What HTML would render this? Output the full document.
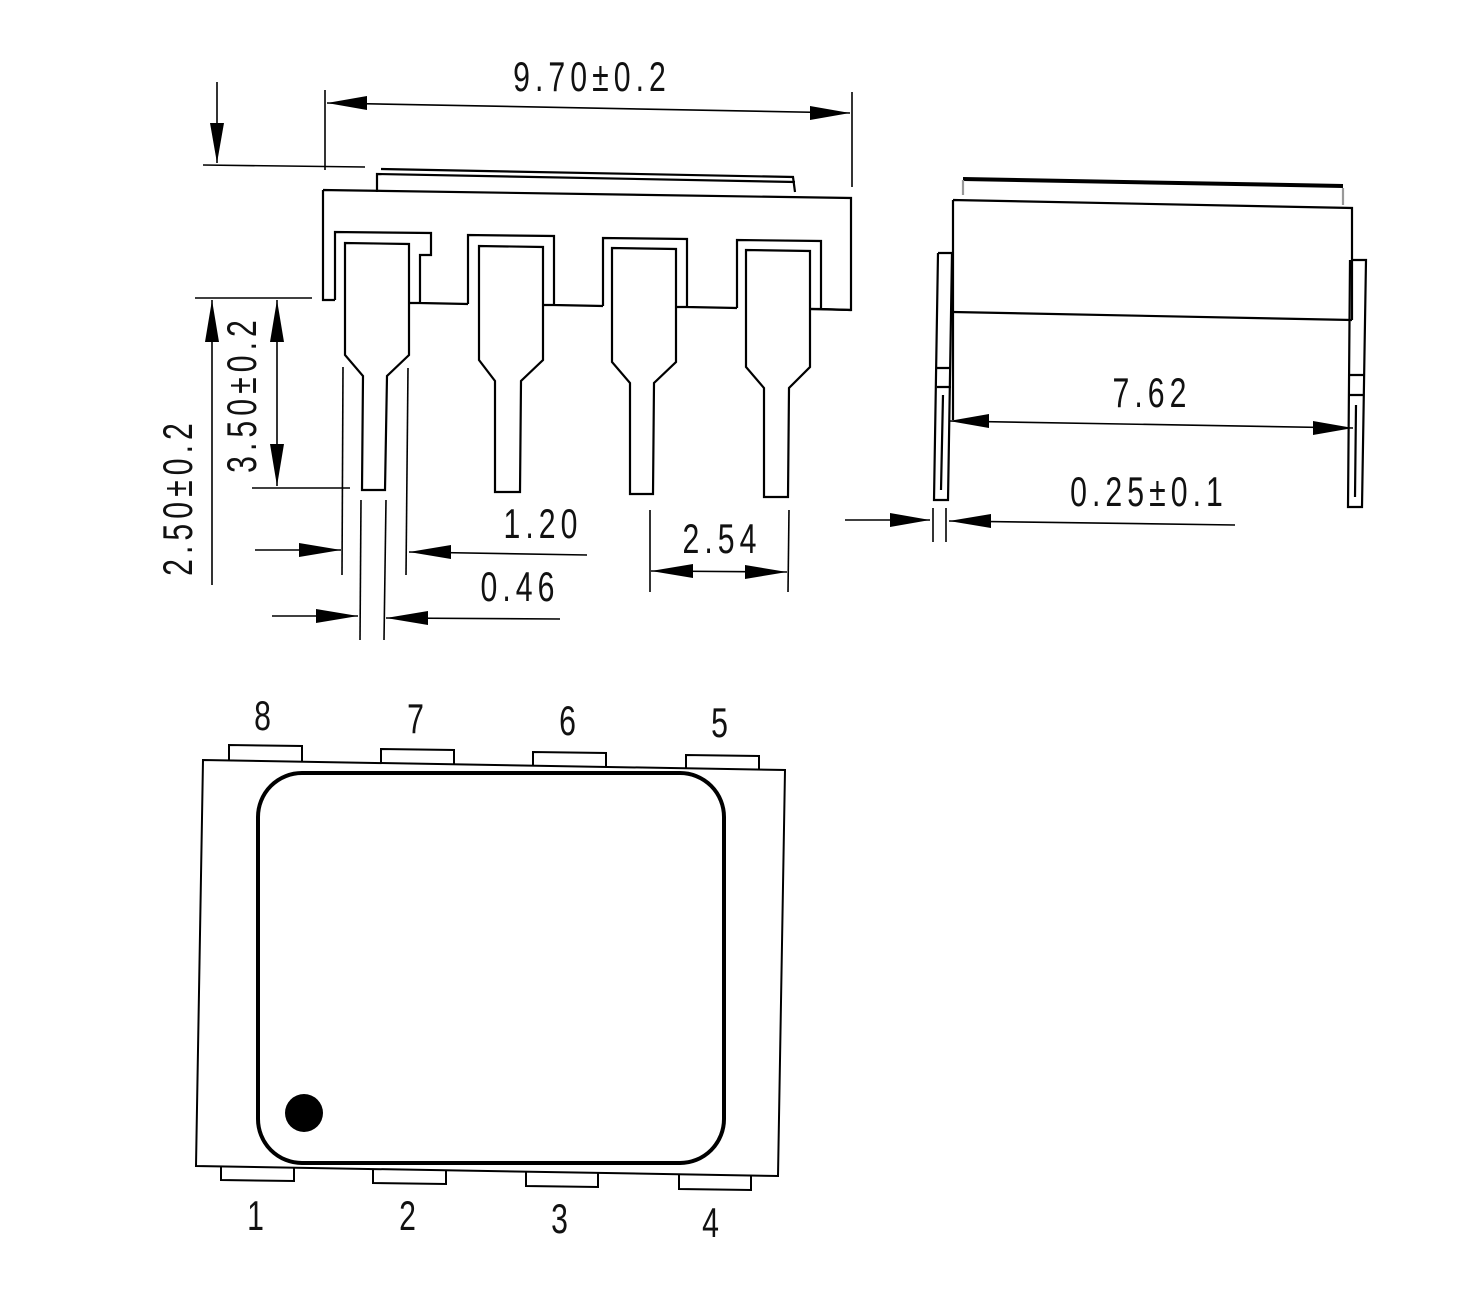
<!DOCTYPE html>
<html><head><meta charset="utf-8"><style>
html,body{margin:0;padding:0;background:#fff;}
svg{display:block;}
text{font-family:"Liberation Sans",sans-serif;fill:#111;letter-spacing:7px;}
</style></head><body>
<svg width="1481" height="1310" viewBox="0 0 1481 1310" xmlns="http://www.w3.org/2000/svg">
<g fill="none" stroke="#000" stroke-width="2.2">
<path d="M381,169 L793,177 L795,192 M377,192 L377,174 L795,182"/>
<path d="M323,190 L851,198 L851,310 L811,309 M323,190 L323,300 L335,300"/>
<path d="M335,300 L335,232 L431,233 L431,255 L420,255 L420,303 L409,303 M420,303 L468,304"/>
<path d="M345,300 L345,243 L409,244 L409,355 L387,376 L385,490 L362,490 L363,376 L345,355 Z"/>
<path d="M468,304 L468,235 L554,236 L554,305 L543,305 M554,305 L603,306"/>
<path d="M479,305 L479,246 L543,247 L543,360 L521,381 L520,492 L495,492 L495,381 L479,360 Z"/>
<path d="M603,306 L603,238 L687,239 L687,307 L676,307 M687,307 L737,308"/>
<path d="M612,306 L612,248 L676,249 L676,362 L654,383 L653,494 L630,494 L630,383 L612,362 Z"/>
<path d="M737,308 L737,240 L821,241 L821,309 L810,309 M821,309 L851,310"/>
<path d="M746,309 L746,250 L810,251 L810,367 L789,388 L788,497 L764,497 L764,388 L746,367 Z"/>
</g>
<g fill="none" stroke="#000" stroke-width="1.6">
<line x1="325" y1="90" x2="325" y2="170"/>
<line x1="852" y1="92" x2="852" y2="187"/>
<line x1="327" y1="103" x2="850" y2="113"/>
<line x1="203" y1="165" x2="365" y2="167"/>
<line x1="217" y1="82" x2="217" y2="163"/>
<line x1="195" y1="298" x2="312" y2="298"/>
<line x1="252" y1="488" x2="350" y2="488"/>
<line x1="277" y1="300" x2="277" y2="486"/>
<line x1="212" y1="585" x2="212" y2="300"/>
<line x1="343" y1="367" x2="342" y2="575"/>
<line x1="408" y1="368" x2="406" y2="575"/>
<line x1="255" y1="550" x2="341" y2="550"/>
<line x1="587" y1="555" x2="409" y2="552"/>
<line x1="361" y1="500" x2="360" y2="640"/>
<line x1="386" y1="500" x2="384" y2="640"/>
<line x1="272" y1="616" x2="358" y2="616"/>
<line x1="560" y1="619" x2="386" y2="618"/>
<line x1="650" y1="510" x2="650" y2="592"/>
<line x1="789" y1="510" x2="788" y2="592"/>
<line x1="651" y1="571" x2="787" y2="572"/>
</g>
<g fill="#000">
<polygon points="327,103 367,96 367,110"/>
<polygon points="850,113 810,106 810,120"/>
<polygon points="217,163 210,123 224,123"/>
<polygon points="277,300 270,342 284,342"/>
<polygon points="277,486 270,444 284,444"/>
<polygon points="212,300 205,342 219,342"/>
<polygon points="341,550 299,543 299,557"/>
<polygon points="409,552 451,545 451,559"/>
<polygon points="358,616 316,609 316,623"/>
<polygon points="386,618 428,611 428,625"/>
<polygon points="651,571 693,564 693,578"/>
<polygon points="787,572 745,565 745,579"/>
<polygon points="949,421 989,414 989,428"/>
<polygon points="1353,428 1313,421 1313,435"/>
<polygon points="930,520 890,513 890,527"/>
<polygon points="949,521 991,514 991,528"/>
</g>
<g fill="none" stroke="#000" stroke-width="2.2">
<line x1="963" y1="179" x2="1343" y2="186" stroke-width="4"/>
<path d="M963,180 L963,195 M1343,188 L1343,205" stroke="#999"/>
<path d="M953,200 L1352,208 L1352,320 M953,200 L953,420"/>
<path d="M953,312 L1352,320"/>
<path d="M938,253 L952,253 M938,253 L934,500 L948,500 L952,253 M937,368 L951,368 M937,387 L951,387 M943,395 L941,490"/>
<path d="M1352,260 L1366,260 L1362,507 L1348,507 L1350,260 M1350,375 L1364,375 M1350,395 L1364,395 M1356,405 L1355,497"/>
</g>
<g fill="none" stroke="#000" stroke-width="1.6">
<line x1="949" y1="421" x2="1353" y2="428"/>
<line x1="845" y1="520" x2="930" y2="520"/>
<line x1="1235" y1="525" x2="949" y2="521"/>
<line x1="933" y1="508" x2="933" y2="542"/>
<line x1="946" y1="508" x2="946" y2="542"/>
</g>
<g fill="none" stroke="#000" stroke-width="2">
<path d="M203,760 L785,770 L778,1176 L196,1166 Z"/>
<rect x="258" y="773" width="466" height="390" rx="44" stroke-width="4"/>
<rect x="262" y="777" width="458" height="382" rx="40" stroke="#fff" stroke-width="1.5"/>
<path d="M229,760 L229,745 L302,746 L302,761"/>
<path d="M381,763 L381,749 L454,750 L454,764"/>
<path d="M533,766 L533,752 L606,753 L606,767"/>
<path d="M686,768 L686,755 L759,756 L759,770"/>
<path d="M221,1166 L221,1180 L294,1181 L294,1167"/>
<path d="M373,1169 L373,1183 L446,1184 L446,1170"/>
<path d="M526,1172 L526,1186 L598,1187 L598,1173"/>
<path d="M679,1175 L679,1189 L751,1190 L751,1176"/>
</g>
<circle cx="304" cy="1113" r="19" fill="#000"/>
<g font-size="42" text-anchor="middle">
<text transform="translate(592,91) scale(0.72,1)">9.70±0.2</text>
<text transform="translate(543,538) scale(0.72,1)">1.20</text>
<text transform="translate(520,601) scale(0.72,1)">0.46</text>
<text transform="translate(722,553) scale(0.72,1)">2.54</text>
<text transform="translate(1152,407) scale(0.72,1)">7.62</text>
<text transform="translate(1149,506) scale(0.72,1)">0.25±0.1</text>
<text transform="translate(256,394) rotate(-90) scale(0.72,1)">3.50±0.2</text>
<text transform="translate(192,497) rotate(-90) scale(0.72,1)">2.50±0.2</text>
</g>
<g font-size="42" text-anchor="middle" style="letter-spacing:0">
<text transform="translate(265,730) scale(0.72,1)">8</text>
<text transform="translate(418,733) scale(0.72,1)">7</text>
<text transform="translate(570,735) scale(0.72,1)">6</text>
<text transform="translate(722,737) scale(0.72,1)">5</text>
<text transform="translate(258,1230) scale(0.72,1)">1</text>
<text transform="translate(410,1230) scale(0.72,1)">2</text>
<text transform="translate(562,1233) scale(0.72,1)">3</text>
<text transform="translate(713,1237) scale(0.72,1)">4</text>
</g>
</svg>
</body></html>
